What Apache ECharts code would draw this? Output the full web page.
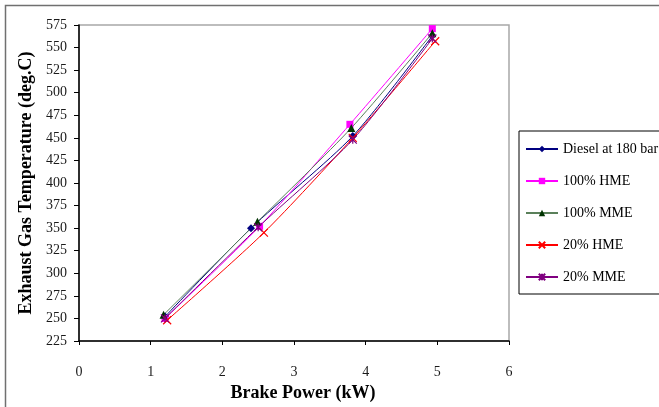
<!DOCTYPE html>
<html>
<head>
<meta charset="utf-8">
<script src="https://cdn.jsdelivr.net/npm/echarts@6/dist/echarts.min.js"></script>
<style>html,body{margin:0;padding:0;background:#fff;}#c{width:659px;height:407px;}</style>
</head>
<body>
<div id="c"></div>
<script>
var seriesNames = ['Diesel at 180 bar', '100% HME', '100% MME', '20% HME', '20% MME'];
var dieselData = [[1.2, 252], [2.4, 350], [3.82, 452], [4.93, 563]];
var hme100Data = [[1.2, 250], [2.52, 352], [3.78, 465], [4.93, 571]];
var mme100Data = [[1.18, 254], [2.49, 357], [3.8, 461], [4.93, 566]];
var hme20Data = [[1.23, 248], [2.58, 345], [3.82, 450], [4.97, 557]];
var mme20Data = [[1.2, 250], [2.5, 351], [3.82, 448], [4.93, 560]];
var xTicks = { min: 0, max: 6, interval: 1 };
var yTicks = { min: 225, max: 575, interval: 25 };

var serif = '"Liberation Serif", "Times New Roman", serif';
function mk(name, data, lineColor, symColor, symbol, size, stroke) {
  var s = {
    name: name, type: 'line', data: data, smooth: 0.25,
    symbol: symbol, symbolSize: size, showSymbol: true,
    lineStyle: { color: lineColor, width: 1 },
    itemStyle: { color: symColor },
    emphasis: { disabled: true }
  };
  if (stroke) {
    s.itemStyle = { color: 'rgba(0,0,0,0)', borderColor: symColor, borderWidth: 1.2 };
  }
  return s;
}
var chart = echarts.init(document.getElementById('c'));
chart.setOption({
  animation: false,
  backgroundColor: '#fff',
  graphic: [{
    type: 'rect', shape: { x: 5.5, y: 5.5, width: 720, height: 460 },
    style: { fill: 'none', stroke: '#707070', lineWidth: 1.5 }, z: -1
  }],
  grid: { left: 79, top: 25, right: 150, bottom: 57, show: true, borderColor: '#a8a8a8', borderWidth: 1.5, backgroundColor: 'transparent' },
  legend: {
    orient: 'vertical', left: 519, top: 131,
    data: seriesNames,
    itemWidth: 32, itemHeight: 8, itemGap: 18,
    padding: [11, 80, 10, 6],
    borderColor: '#000', borderWidth: 1,
    textStyle: { fontFamily: serif, fontSize: 14, color: '#000' },
    selectedMode: false
  },
  xAxis: {
    type: 'value', min: xTicks.min, max: xTicks.max, interval: xTicks.interval,
    name: 'Brake Power (kW)', nameLocation: 'middle', nameGap: 43,
    nameTextStyle: { fontFamily: serif, fontSize: 18, fontWeight: 'bold', color: '#000', padding: [0, 0, 0, 18] },
    axisLine: { lineStyle: { color: '#000', width: 1.5 } },
    axisTick: { show: true, inside: false, length: 4, lineStyle: { color: '#000' } },
    axisLabel: { fontFamily: serif, fontSize: 14, color: '#1a1a1a', margin: 24 },
    splitLine: { show: false }
  },
  yAxis: {
    type: 'value', min: yTicks.min, max: yTicks.max, interval: yTicks.interval,
    name: 'Exhaust Gas Temperature (deg.C)', nameLocation: 'middle', nameGap: 41, nameRotate: 90,
    nameTextStyle: { fontFamily: serif, fontSize: 18, fontWeight: 'bold', color: '#000' },
    axisLine: { show: true, lineStyle: { color: '#000', width: 1.5 } },
    axisTick: { show: true, inside: false, length: 5, lineStyle: { color: '#000' } },
    axisLabel: { fontFamily: serif, fontSize: 14, color: '#1a1a1a', margin: 12 },
    splitLine: { show: false }
  },
  series: [
    mk(seriesNames[0], dieselData, '#000080', '#000080', 'diamond', 8),
    mk(seriesNames[1], hme100Data, '#ff00ff', '#ff00ff', 'rect', 7),
    mk(seriesNames[2], mme100Data, '#5a805a', '#003300', 'triangle', 8),
    mk(seriesNames[3], hme20Data, '#ff0000', '#ff0000', 'path://M0 0L10 10M10 0L0 10', 8, true),
    mk(seriesNames[4], mme20Data, '#800080', '#800080', 'path://M0 0L10 10M10 0L0 10M5 0L5 10', 8, true)
  ]
});
</script>
</body>
</html>
